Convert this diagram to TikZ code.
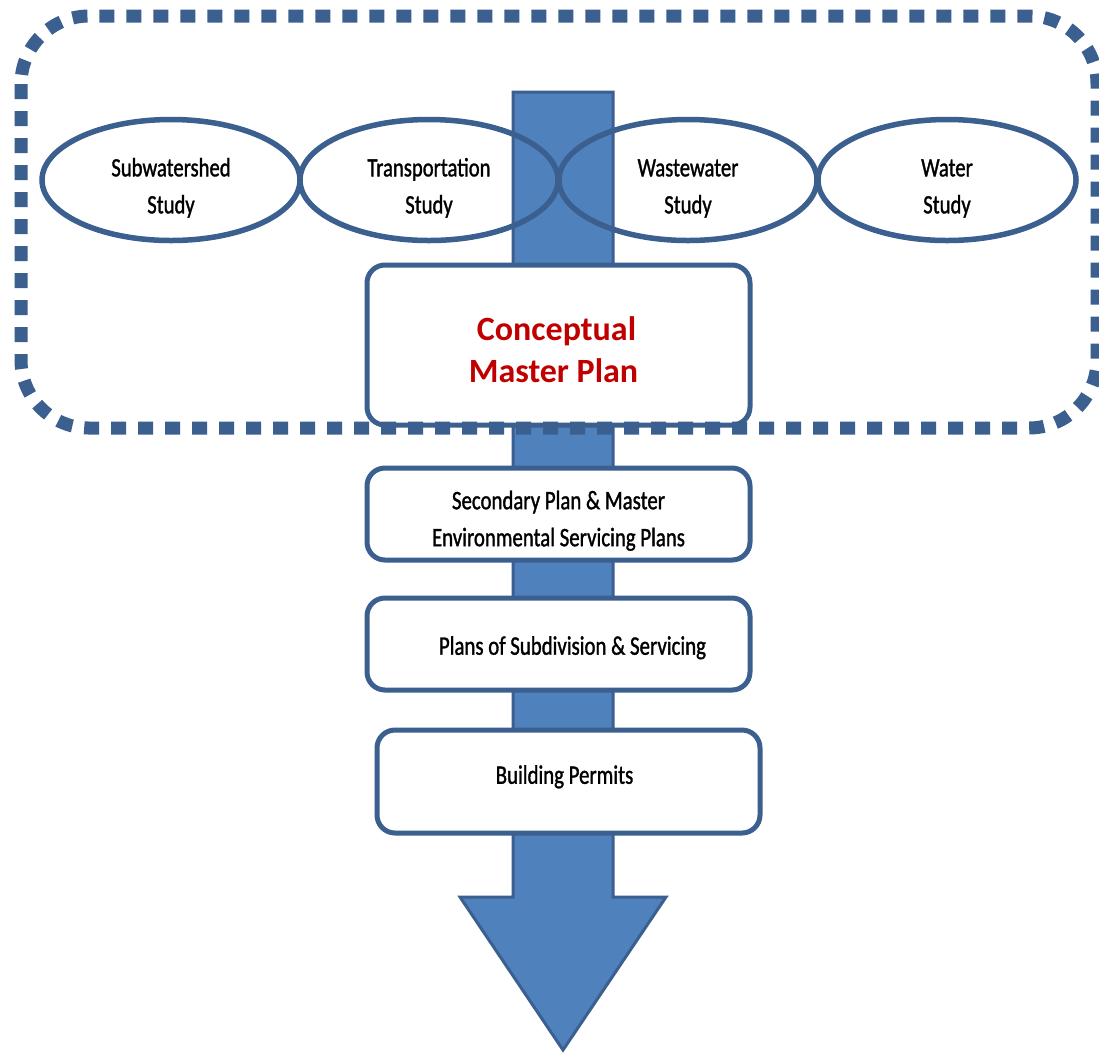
\documentclass[tikz,border=0pt]{standalone}
\usepackage{fontspec}
\setmainfont{Carlito}
\newfontfamily\narrowfont{Carlito}[FakeStretch=0.78,FakeBold=1.2]
\usetikzlibrary{shapes.geometric}
\definecolor{borderblue}{HTML}{3B5F8E}
\definecolor{arrowblue}{HTML}{4F81BD}
\definecolor{titlered}{HTML}{C00000}
\newcommand{\lowerby}[1]{\rule{0pt}{#1}}
\begin{document}
\begin{tikzpicture}[x=1pt,y=-1pt,
  study/.style={ellipse, draw=borderblue, line width=5.5pt, minimum width=258pt,
    minimum height=121pt, inner sep=0pt, align=center,
    font=\narrowfont\fontsize{26.5}{37}\selectfont},
  stepbox/.style={rectangle, draw=borderblue, line width=5pt, fill=white,
    rounded corners=18pt, minimum width=383pt, inner sep=0pt, align=center,
    font=\narrowfont\fontsize{26.7}{37}\selectfont},
  bigarrow/.style={draw=borderblue, line width=3pt, fill=arrowblue, line join=miter},
  groupframe/.style={draw=borderblue, line width=13pt, dash pattern=on 15pt off 12pt,
    rounded corners=68pt}
]
\useasboundingbox (0,0) rectangle (1099,1053);
\fill[white] (0,0) rectangle (1099,1053);

% big downward arrow
\coordinate (atip) at (563,1050);
\draw[bigarrow] (513,92) -- (613,92) -- (613,897) -- (666,897) -- (atip)
  -- (460,897) -- (513,897) -- cycle;

% studies
\node[study] (sub)   at (171,180) {\lowerby{34pt}Subwatershed\\Study};
\node[study] (trans) at (429,180) {\lowerby{34pt}Transportation\\Study};
\node[study] (waste) at (688,180) {\lowerby{34pt}Wastewater\\Study};
\node[study] (water) at (947,180) {\lowerby{34pt}Water\\Study};

% steps
\node[stepbox, minimum height=160pt,
  font=\bfseries\fontsize{34}{42}\selectfont, text=titlered] (cmp) at (558.5,345)
  {\lowerby{34pt}Conceptual\hspace*{4pt}\\Master Plan\hspace*{10pt}};
\node[stepbox, minimum height=92pt] (sec) at (558.5,514)
  {\lowerby{32pt}Secondary Plan \& Master\\Environmental Servicing Plans};
\node[stepbox, minimum height=92pt] (subd) at (558.5,644)
  {\hspace*{28pt}\lowerby{26pt}Plans of Subdivision \& Servicing};
\node[stepbox, minimum height=103pt] (bp) at (568.5,781.5)
  {Building Permits\rule[-14pt]{0pt}{14pt}\hspace*{8pt}};

% grouping frame
\draw[groupframe] (21,16) rectangle (1097,428);
\end{tikzpicture}
\end{document}
